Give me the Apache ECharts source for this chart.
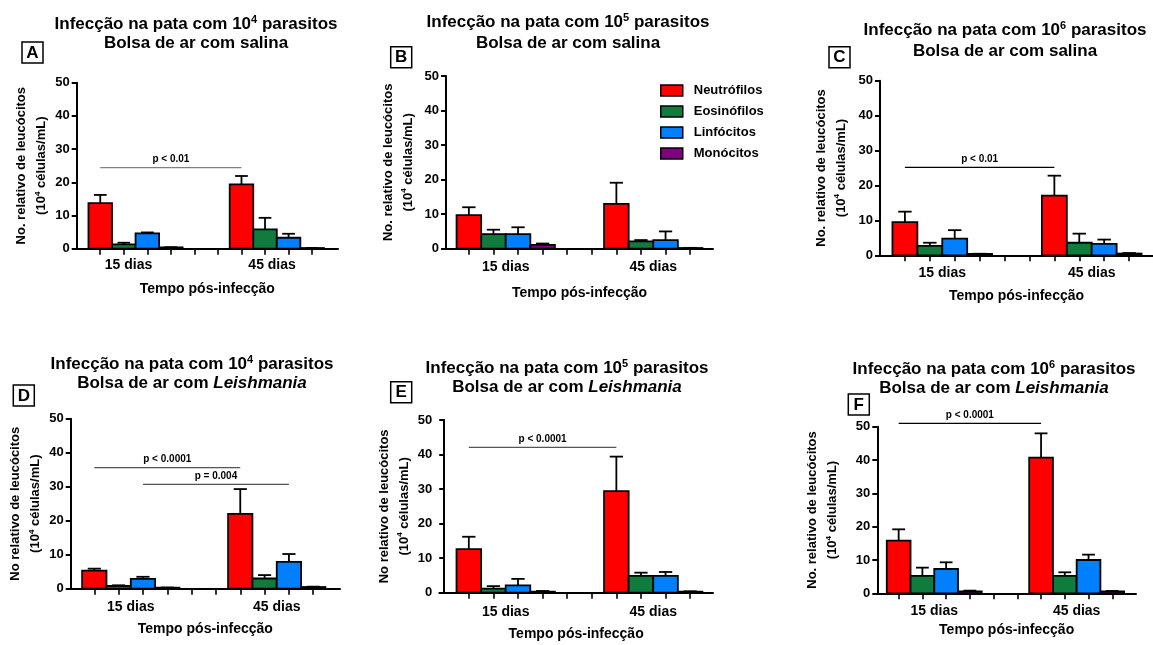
<!DOCTYPE html>
<html>
<head>
<meta charset="utf-8">
<script src="https://cdn.jsdelivr.net/npm/echarts@6/dist/echarts.min.js"></script>
<style>
html,body{margin:0;padding:0;background:#fff;}
#chart{width:1153px;height:645px;}
</style>
</head>
<body>
<div id="chart"></div>
<script>
// ---------- DATA ----------
const groupLabels = ['15 dias', '45 dias'];
const cellTypes = ['Neutrófilos', 'Eosinófilos', 'Linfócitos', 'Monócitos'];
const slots15 = [1, 2, 3, 4];
const slots45 = [7, 8, 9, 10];
const yMin = 0, yMax = 50, yStep = 10;

const panelIds = ['A', 'B', 'C', 'D', 'E', 'F'];
const parasiteExp = ['4', '5', '6', '4', '5', '6'];
const airPouch = ['salina', 'salina', 'salina', 'Leishmania', 'Leishmania', 'Leishmania'];
const yNameFirst = ['No. relativo de leucócitos', 'No. relativo de leucócitos', 'No. relativo de leucócitos',
                    'No relativo de leucócitos', 'No relativo de leucócitos', 'No. relativo de leucócitos'];
const xName = 'Tempo pós-infecção';

// means and SEM (upper error) per cell type [Neutr, Eosin, Linf, Mono]
const meanA15 = [13.7, 1.3, 4.6, 0.4],  semA15 = [2.5, 0.5, 0.3, 0.05];
const meanA45 = [19.4, 5.8, 3.3, 0.2],  semA45 = [2.5, 3.5, 1.2, 0.05];
const meanB15 = [9.7, 4.2, 4.2, 1.1],   semB15 = [2.3, 1.3, 2.0, 0.4];
const meanB45 = [13.0, 2.1, 2.5, 0.2],  semB45 = [6.1, 0.4, 2.5, 0.05];
const meanC15 = [9.5, 2.7, 4.8, 0.4],   semC15 = [3.0, 0.9, 2.4, 0.05];
const meanC45 = [17.1, 3.6, 3.3, 0.5],  semC45 = [5.7, 2.6, 1.2, 0.15];
const meanD15 = [5.3, 0.8, 2.9, 0.3],   semD15 = [0.6, 0.2, 0.6, 0.05];
const meanD45 = [22.0, 3.0, 7.9, 0.5],  semD45 = [7.3, 1.0, 2.3, 0.1];
const meanE15 = [12.6, 1.2, 2.1, 0.3],  semE15 = [3.6, 0.7, 1.9, 0.2];
const meanE45 = [29.4, 4.9, 4.9, 0.3],  semE45 = [10.0, 0.9, 1.1, 0.1];
const meanF15 = [15.8, 5.2, 7.3, 0.6],  semF15 = [3.4, 2.5, 2.0, 0.2];
const meanF45 = [40.7, 5.2, 10.0, 0.6], semF45 = [7.3, 1.1, 1.6, 0.1];

// significance bars: [fromSlot, toSlot, yValue]
const sigA = [[1, 7, 24.4]],               sigLabelsA = ['p < 0.01'];
const sigB = [],                           sigLabelsB = [];
const sigC = [[1, 7, 25.2]],               sigLabelsC = ['p < 0.01'];
const sigD = [[1, 7, 35.6], [3, 9, 30.7]], sigLabelsD = ['p < 0.0001', 'p = 0.004'];
const sigE = [[1, 7, 42.1]],               sigLabelsE = ['p < 0.0001'];
const sigF = [[1, 7, 51.0]],               sigLabelsF = ['p < 0.0001'];

const means15 = [meanA15, meanB15, meanC15, meanD15, meanE15, meanF15];
const sems15  = [semA15, semB15, semC15, semD15, semE15, semF15];
const means45 = [meanA45, meanB45, meanC45, meanD45, meanE45, meanF45];
const sems45  = [semA45, semB45, semC45, semD45, semE45, semF45];
const sigs = [sigA, sigB, sigC, sigD, sigE, sigF];
const sigLabels = [sigLabelsA, sigLabelsB, sigLabelsC, sigLabelsD, sigLabelsE, sigLabelsF];

// ---------- LAYOUT / STYLE ----------
const FONT = '"Liberation Sans", Arial, Helvetica, sans-serif';
const colors = ['#FF0000', '#0F7B3C', '#0080FF', '#7F007F'];
const layout = [
  {grid:{left:76.7, top:82.7, width:261.3, height:166},  xr:[0, 11.1],    lab:[2.2, 8.3], nameGap:22, xNameGap:33, labMargin:9,  tx:196, ty:24.5,  tlh:19, box:[22, 42],     sigColor:'#808080'},
  {grid:{left:446,  top:76,   width:267,   height:172.7}, xr:[0.07, 10.93], lab:[2.5, 8.5], nameGap:28, xNameGap:37, labMargin:11, tx:568, ty:22.5,  tlh:20.5, box:[390.7, 46.7], sigColor:'#000'},
  {grid:{left:880,  top:80.7, width:273,   height:174.6}, xr:[0, 10.96],   lab:[2.5, 8.5], nameGap:29, xNameGap:34, labMargin:11, tx:1005, ty:30, tlh:21, box:[829, 46.7],  sigColor:'#000'},
  {grid:{left:70.7, top:418.7,width:269.3, height:170},   xr:[0.03, 11.1], lab:[2.5, 8.5], nameGap:25, xNameGap:33, labMargin:11, tx:192, ty:364.5, tlh:19.3, box:[13.3, 385],  sigColor:'#555'},
  {grid:{left:439.3,top:420,  width:273.7, height:172.7}, xr:[-0.2, 10.93],lab:[2.5, 8.5], nameGap:21, xNameGap:34, labMargin:12, tx:567, ty:368, tlh:19, box:[390.7, 381.7], sigColor:'#555'},
  {grid:{left:877.3,top:426.7,width:258.7, height:166.6}, xr:[0.1, 11.0],  lab:[2.5, 8.5], nameGap:35, xNameGap:30, labMargin:11, tx:994, ty:369.5, tlh:18.5, box:[848.3, 394], sigColor:'#000'}
];

function renderBar(params, api) {
  const x = api.value(0), m = api.value(1), e = api.value(2);
  const tl = api.coord([x - 0.5, m]);
  const br = api.coord([x + 0.5, 0]);
  const top = api.coord([x, m + e]);
  const mid = api.coord([x, m]);
  const capHalf = api.size([0.27, 0])[0];
  const color = api.visual('color');
  const ls = {stroke:'#000', lineWidth:1.8, fill:null};
  return {type:'group', children:[
    {type:'rect', shape:{x:tl[0], y:tl[1], width:br[0]-tl[0], height:br[1]-tl[1]}, style:{fill:color, stroke:'#000', lineWidth:1.8}},
    {type:'line', shape:{x1:mid[0], y1:mid[1], x2:top[0], y2:top[1]}, style:ls},
    {type:'line', shape:{x1:top[0]-capHalf, y1:top[1], x2:top[0]+capHalf, y2:top[1]}, style:ls}
  ]};
}

function makeSigRenderer(labels, col) {
  return function (params, api) {
    const a = api.coord([api.value(0), api.value(2)]);
    const b = api.coord([api.value(1), api.value(2)]);
    return {type:'group', children:[
      {type:'line', shape:{x1:a[0], y1:a[1], x2:b[0], y2:b[1]}, style:{stroke:col, lineWidth:1.2}},
      {type:'text', x:(a[0]+b[0])/2, y:a[1]-3,
       style:{text:labels[params.dataIndex], align:'center', verticalAlign:'bottom',
              font:'bold 10px ' + FONT, fill:'#000'}}
    ]};
  };
}

const grids = [], xAxes = [], yAxes = [], series = [], graphics = [];
panelIds.forEach(function (id, p) {
  const L = layout[p];
  grids.push(Object.assign({outerBoundsMode:'none', containLabel:false}, L.grid));
  xAxes.push({
    type:'value', gridIndex:p, min:L.xr[0], max:L.xr[1],
    splitLine:{show:false},
    axisLine:{show:true, onZero:false, lineStyle:{color:'#000', width:2}},
    axisTick:{show:true, customValues:slots15.concat([5, 6], slots45), length:6, lineStyle:{color:'#000', width:1.6}},
    axisLabel:{show:true, customValues:L.lab, margin:L.labMargin,
      formatter:function (v) { return v < 5 ? groupLabels[0] : groupLabels[1]; },
      color:'#000', fontWeight:'bold', fontSize:14, fontFamily:FONT},
    name:xName, nameLocation:'middle', nameGap:L.xNameGap,
    nameTextStyle:{color:'#000', fontWeight:'bold', fontSize:14, fontFamily:FONT}
  });
  yAxes.push({
    type:'value', gridIndex:p, min:yMin, max:yMax, interval:yStep,
    splitLine:{show:false},
    axisLine:{show:true, lineStyle:{color:'#000', width:2}},
    axisTick:{show:true, length:5, lineStyle:{color:'#000', width:2}},
    axisLabel:{margin:7, color:'#000', fontWeight:'bold', fontSize:13, fontFamily:FONT},
    name:'{a|' + yNameFirst[p] + '}\n{a|(10}{s|4}{a| células/mL)}',
    nameLocation:'middle', nameGap:L.nameGap, nameRotate:90,
    nameTextStyle:{color:'#000', lineHeight:20,
      rich:{a:{fontSize:13, fontWeight:'bold', fontFamily:FONT, color:'#000', lineHeight:20},
            s:{fontSize:8, fontWeight:'bold', fontFamily:FONT, color:'#000', padding:[0,0,8,0], lineHeight:20}}}
  });
  cellTypes.forEach(function (name, k) {
    series.push({
      type:'custom', name:name, xAxisIndex:p, yAxisIndex:p,
      itemStyle:{color:colors[k], borderColor:'#000', borderWidth:1.5},
      encode:{x:0, y:1},
      renderItem:renderBar,
      data:[[slots15[k], means15[p][k], sems15[p][k]], [slots45[k], means45[p][k], sems45[p][k]]],
      z:3
    });
  });
  if (sigs[p].length) {
    series.push({
      type:'custom', name:'sig' + id, xAxisIndex:p, yAxisIndex:p, clip:false,
      encode:{x:[0, 1], y:2},
      renderItem:makeSigRenderer(sigLabels[p], L.sigColor),
      data:sigs[p], z:4
    });
  }
  // title
  const italic = airPouch[p] === 'Leishmania';
  graphics.push({
    type:'text', x:L.tx, y:L.ty - L.tlh / 2,
    style:{
      text:'{a|Infecção na pata com 10}{s|' + parasiteExp[p] + '}{a| parasitos}\n{a|Bolsa de ar com }' +
           (italic ? '{i|Leishmania}' : '{a|salina}'),
      align:'center', verticalAlign:'top',
      rich:{
        a:{fontSize:17, fontWeight:'bold', fontFamily:FONT, fill:'#000', lineHeight:L.tlh},
        i:{fontSize:17, fontWeight:'bold', fontStyle:'italic', fontFamily:FONT, fill:'#000', lineHeight:L.tlh},
        s:{fontSize:11, fontWeight:'bold', fontFamily:FONT, fill:'#000', padding:[0,0,9,0], lineHeight:L.tlh}
      }
    }
  });
  // panel letter box
  graphics.push({
    type:'group', x:L.box[0], y:L.box[1], children:[
      {type:'rect', shape:{x:0, y:0, width:21, height:21}, style:{fill:'#fff', stroke:'#000', lineWidth:1.5}},
      {type:'text', x:10.5, y:11, style:{text:id, align:'center', verticalAlign:'middle',
        font:'bold 17px ' + FONT, fill:'#000'}}
    ]
  });
});

const chart = echarts.init(document.getElementById('chart'), null, {renderer:'canvas'});
chart.setOption({
  animation:false,
  backgroundColor:'#fff',
  grid:grids, xAxis:xAxes, yAxis:yAxes, series:series, graphic:graphics,
  legend:{
    data:cellTypes.map(function (n, k) {
      return {name:n, icon:'rect', itemStyle:{color:colors[k], borderColor:'#000', borderWidth:1.5}};
    }),
    orient:'vertical', left:660, top:84, padding:0, itemWidth:22, itemHeight:11, itemGap:8,
    selectedMode:false,
    textStyle:{color:'#000', fontWeight:'bold', fontSize:13, fontFamily:FONT, padding:[0,0,0,6]}
  }
});
</script>
</body>
</html>
